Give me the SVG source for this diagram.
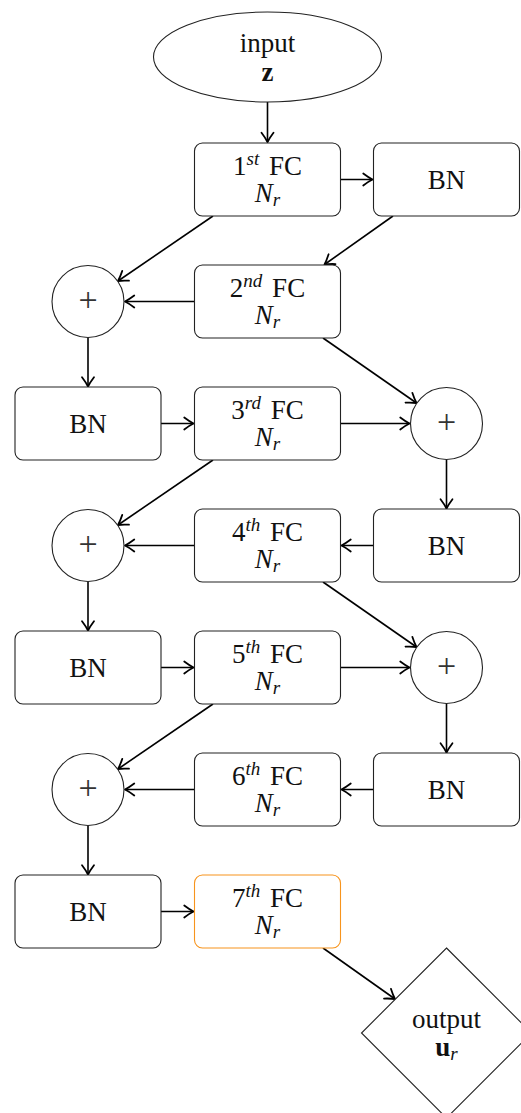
<svg xmlns="http://www.w3.org/2000/svg" width="521" height="1113" viewBox="0 0 521 1113">
  <style>
    text { font-family: "Liberation Serif", "DejaVu Serif", serif; font-size: 27px; fill: #111; text-anchor: middle; }
    .sup { font-size: 19px; font-style: italic; }
    .it { font-style: italic; }
    .sub { font-size: 19px; font-style: italic; }
    .bf { font-weight: bold; }
    .plus { font-size: 34px; fill: #333; }
    .box { fill: #fff; stroke: #222; stroke-width: 1.1; }
    .last { fill: #fff; stroke: #f7941d; stroke-width: 1.1; }
    .shape { fill: #fff; stroke: #222; stroke-width: 1.1; }
    .edge { fill: none; stroke: #000; stroke-width: 1.6; marker-end: url(#tip); }
  </style>
  <defs>
    <marker id="tip" viewBox="-8 -5 9 10" refX="0" refY="0" markerWidth="8" markerHeight="8.9" orient="auto" markerUnits="strokeWidth">
      <path d="M -6.5,-4.2 Q -2.5,-1.2 0,0 Q -2.5,1.2 -6.5,4.2" fill="none" stroke="#000" stroke-width="1.25" stroke-linecap="round" stroke-linejoin="round"/>
    </marker>
  </defs>

  <rect width="521" height="1113" fill="#fff"/>

  <!-- connectors -->
  <g id="edges">
    <path class="edge" d="M267.5,102 L267.5,142"/>
    <path class="edge" d="M340.5,179.5 L372.5,179.5"/>
    <path class="edge" d="M393,216 L324.5,264.5"/>
    <path class="edge" d="M213,216 L118,281"/>
    <path class="edge" d="M194.5,301.5 L125,301.5"/>
    <path class="edge" d="M88,337.5 L88,386.5"/>
    <path class="edge" d="M323,338 L416.5,403"/>
    <path class="edge" d="M161,423.5 L193.5,423.5"/>
    <path class="edge" d="M340.5,423.5 L409.5,423.5"/>
    <path class="edge" d="M446.5,459.5 L446.5,508.5"/>
    <path class="edge" d="M373.5,545.5 L341.5,545.5"/>
    <path class="edge" d="M213,460 L118,525"/>
    <path class="edge" d="M194.5,545.5 L125,545.5"/>
    <path class="edge" d="M88,581.5 L88,630.5"/>
    <path class="edge" d="M323,582 L416.5,647"/>
    <path class="edge" d="M161,667.5 L193.5,667.5"/>
    <path class="edge" d="M340.5,667.5 L409.5,667.5"/>
    <path class="edge" d="M446.5,703.5 L446.5,752.5"/>
    <path class="edge" d="M373.5,789.5 L341.5,789.5"/>
    <path class="edge" d="M213,704 L118,769"/>
    <path class="edge" d="M194.5,789.5 L125,789.5"/>
    <path class="edge" d="M88,825.5 L88,874.5"/>
    <path class="edge" d="M161,911.5 L193.5,911.5"/>
    <path class="edge" d="M323,948 L395,999"/>
  </g>

  <!-- input -->
  <g id="input">
    <ellipse class="shape" cx="267.5" cy="57" rx="114" ry="45"/>
    <text x="267.5" y="52">input</text>
    <text x="267.5" y="81" class="bf">z</text>
  </g>

  <!-- row 1 -->
  <g id="fc1">
    <rect class="box" x="194.5" y="143" width="146" height="73" rx="8"/>
    <text x="267.5" y="175">1<tspan class="sup" dy="-10">st</tspan><tspan dy="10" dx="3"> FC</tspan></text>
    <text x="267.5" y="202"><tspan class="it">N</tspan><tspan class="sub" dy="4">r</tspan></text>
  </g>
  <g id="bn1">
    <rect class="box" x="373.5" y="143" width="146" height="73" rx="8"/>
    <text x="446.5" y="189">BN</text>
  </g>

  <!-- row 2 -->
  <g id="add1">
    <circle class="shape" cx="88" cy="301.5" r="36"/>
    <text class="plus" x="88" y="311">+</text>
  </g>
  <g id="fc2">
    <rect class="box" x="194.5" y="265" width="146" height="73" rx="8"/>
    <text x="267.5" y="297">2<tspan class="sup" dy="-10">nd</tspan><tspan dy="10" dx="3"> FC</tspan></text>
    <text x="267.5" y="324"><tspan class="it">N</tspan><tspan class="sub" dy="4">r</tspan></text>
  </g>

  <!-- row 3 -->
  <g id="bn2">
    <rect class="box" x="15" y="387" width="146" height="73" rx="8"/>
    <text x="88" y="433">BN</text>
  </g>
  <g id="fc3">
    <rect class="box" x="194.5" y="387" width="146" height="73" rx="8"/>
    <text x="267.5" y="419">3<tspan class="sup" dy="-10">rd</tspan><tspan dy="10" dx="3"> FC</tspan></text>
    <text x="267.5" y="446"><tspan class="it">N</tspan><tspan class="sub" dy="4">r</tspan></text>
  </g>
  <g id="add2">
    <circle class="shape" cx="446.5" cy="423.5" r="36"/>
    <text class="plus" x="446.5" y="433">+</text>
  </g>

  <!-- row 4 -->
  <g id="add3">
    <circle class="shape" cx="88" cy="545.5" r="36"/>
    <text class="plus" x="88" y="555">+</text>
  </g>
  <g id="fc4">
    <rect class="box" x="194.5" y="509" width="146" height="73" rx="8"/>
    <text x="267.5" y="541">4<tspan class="sup" dy="-10">th</tspan><tspan dy="10" dx="3"> FC</tspan></text>
    <text x="267.5" y="568"><tspan class="it">N</tspan><tspan class="sub" dy="4">r</tspan></text>
  </g>
  <g id="bn3">
    <rect class="box" x="373.5" y="509" width="146" height="73" rx="8"/>
    <text x="446.5" y="555">BN</text>
  </g>

  <!-- row 5 -->
  <g id="bn4">
    <rect class="box" x="15" y="631" width="146" height="73" rx="8"/>
    <text x="88" y="677">BN</text>
  </g>
  <g id="fc5">
    <rect class="box" x="194.5" y="631" width="146" height="73" rx="8"/>
    <text x="267.5" y="663">5<tspan class="sup" dy="-10">th</tspan><tspan dy="10" dx="3"> FC</tspan></text>
    <text x="267.5" y="690"><tspan class="it">N</tspan><tspan class="sub" dy="4">r</tspan></text>
  </g>
  <g id="add4">
    <circle class="shape" cx="446.5" cy="667.5" r="36"/>
    <text class="plus" x="446.5" y="677">+</text>
  </g>

  <!-- row 6 -->
  <g id="add5">
    <circle class="shape" cx="88" cy="789.5" r="36"/>
    <text class="plus" x="88" y="799">+</text>
  </g>
  <g id="fc6">
    <rect class="box" x="194.5" y="753" width="146" height="73" rx="8"/>
    <text x="267.5" y="785">6<tspan class="sup" dy="-10">th</tspan><tspan dy="10" dx="3"> FC</tspan></text>
    <text x="267.5" y="812"><tspan class="it">N</tspan><tspan class="sub" dy="4">r</tspan></text>
  </g>
  <g id="bn5">
    <rect class="box" x="373.5" y="753" width="146" height="73" rx="8"/>
    <text x="446.5" y="799">BN</text>
  </g>

  <!-- row 7 -->
  <g id="bn6">
    <rect class="box" x="15" y="875" width="146" height="73" rx="8"/>
    <text x="88" y="921">BN</text>
  </g>
  <g id="fc7">
    <rect class="last" x="194.5" y="875" width="146" height="73" rx="8"/>
    <text x="267.5" y="907">7<tspan class="sup" dy="-10">th</tspan><tspan dy="10" dx="3"> FC</tspan></text>
    <text x="267.5" y="934"><tspan class="it">N</tspan><tspan class="sub" dy="4">r</tspan></text>
  </g>

  <!-- output -->
  <g id="output">
    <polygon class="shape" points="446.5,948 531.5,1033 446.5,1118 361.5,1033"/>
    <text x="446.5" y="1028">output</text>
    <text x="446.5" y="1056"><tspan class="bf">u</tspan><tspan class="sub" dy="4">r</tspan></text>
  </g>
</svg>
